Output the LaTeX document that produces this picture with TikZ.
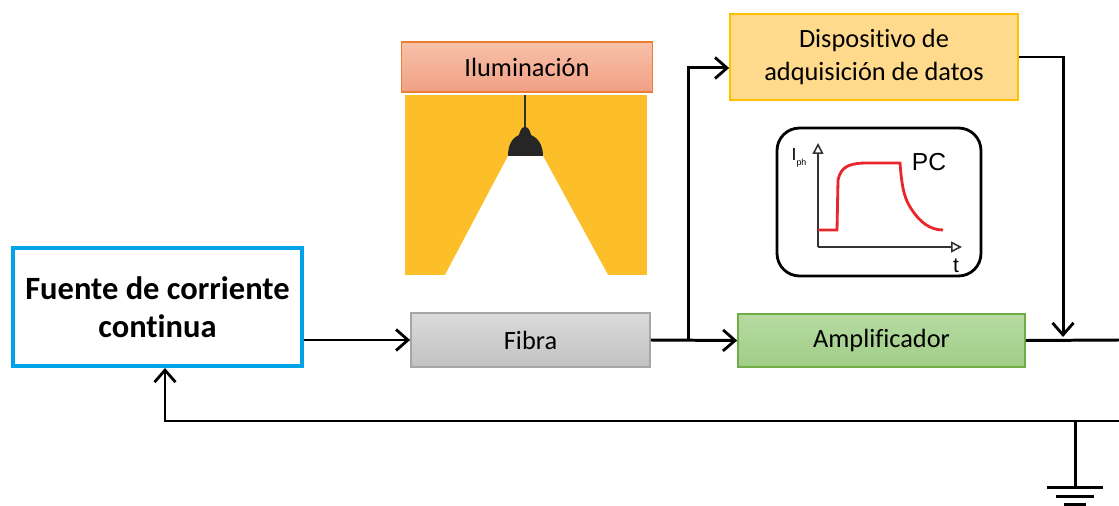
\documentclass[tikz,border=0pt]{standalone}
\usepackage{fontspec}
\setmainfont[Ligatures=NoCommon]{Carlito}
\newfontfamily\arialfont{Liberation Sans}
\usepackage{tikz}
\usetikzlibrary{positioning, arrows.meta, shapes}

\definecolor{fuenteblue}{HTML}{00A2E8}
\definecolor{ilumtop}{HTML}{F7C1AA}
\definecolor{ilumbot}{HTML}{F1A084}
\definecolor{ilumline}{HTML}{ED7D31}
\definecolor{lampyellow}{HTML}{FCBF2A}
\definecolor{dispfill}{HTML}{FFD98C}
\definecolor{displine}{HTML}{FFC000}
\definecolor{amptop}{HTML}{B7DBA3}
\definecolor{ampbot}{HTML}{A0CD86}
\definecolor{ampline}{HTML}{70AD47}
\definecolor{fibtop}{HTML}{DADADA}
\definecolor{fibbot}{HTML}{C2C2C2}
\definecolor{fibline}{HTML}{A6A6A6}
\definecolor{curvered}{HTML}{E8262C}

\tikzset{
    blk/.style={rectangle, line width=1pt, align=center, font=\fontsize{15}{19}\selectfont},
    arr/.style={line width=1.7pt, -{Straight Barb[length=2.4mm, width=4.2mm, line width=1.6pt]}},
    wire/.style={line width=1.7pt}
}

\begin{document}
\begin{tikzpicture}[x=0.02cm, y=-0.02cm]
    \useasboundingbox (0,0) rectangle (1119,506);

    % blocks
    \node[blk, draw=fuenteblue, line width=2.3pt, minimum width=5.78cm, minimum height=2.36cm,
          font=\fontsize{18.5}{21.5}\selectfont\bfseries] (fuente) at (157.5,307) {Fuente de corriente\\continua};
    \node[blk, draw=ilumline, top color=ilumtop, bottom color=ilumbot,
          minimum width=5.02cm, minimum height=1.0cm] (ilum) at (527,67) {Iluminación};
    \node[blk, draw=fibline, top color=fibtop, bottom color=fibbot,
          minimum width=4.78cm, minimum height=1.08cm] (fibra) at (530.5,340) {Fibra};
    \node[blk, draw=displine, fill=dispfill,
          minimum width=5.76cm, minimum height=1.72cm] (disp) at (874,57) {Dispositivo de\\adquisición de datos};
    \node[blk, draw=ampline, top color=amptop, bottom color=ampbot,
          minimum width=5.74cm, minimum height=1.06cm] (amp) at (881.5,340.5) {Amplificador};

    % lamp
    \fill[lampyellow] (405,95) rectangle (647,275);
    \fill[white] (508,156) -- (543,156) -- (608,275) -- (445,275) -- cycle;
    \draw[line width=1pt, black!80] (525,95) -- (525,130);
    \fill[black!85] (508,156) .. controls (508,145) and (512,138) .. (519,135)
        .. controls (520,130) and (522,127) .. (525,127)
        .. controls (528,127) and (530,130) .. (531,135)
        .. controls (538,138) and (543,145) .. (543,156) -- cycle;

    % photocurrent plot
    \node[draw, line width=1.6pt, rounded corners=0.45cm,
          minimum width=4.08cm, minimum height=2.96cm] (pc) at (879,202) {};
    \draw[line width=0.9pt, black!80, -{Triangle[open, length=2.2mm, width=2.2mm]}] (818,247) -- (818,143);
    \draw[line width=0.9pt, black!80, -{Triangle[open, length=2.2mm, width=2.2mm]}] (818,247) -- (962,247);
    \draw[line width=1.6pt, curvered] (818,230) -- (837,230) -- (838,180)
        .. controls (841,166) and (850,163) .. (868,163) -- (900,163)
        .. controls (902,190) and (905,200) .. (912,210)
        .. controls (920,222) and (930,230) .. (943,230);
    \node[font=\arialfont\fontsize{10}{10}\selectfont, inner sep=0pt] (iph) at (799,158) {I\raisebox{-0.5ex}{\fontsize{5}{5}\selectfont ph}};
    \node[font=\arialfont\fontsize{14}{14}\selectfont, inner sep=0pt] (pclbl) at (929,162) {PC};
    \node[font=\arialfont\fontsize{12}{12}\selectfont, inner sep=0pt] (tlbl) at (956,266) {t};

    % connections
    \coordinate (split) at (688,340);
    \coordinate (join) at (1063,337);
    \coordinate (right) at (1119,340);
    \coordinate (back) at (1119,421);
    \coordinate (ret) at (165,421);
    \coordinate (gnd) at (1075,421);

    \draw[arr] (fuente.east |- fibra.west) -- (fibra.west);
    \draw[arr] (fibra.east) -- (amp.west);
    \draw[arr] (split) |- ([yshift=-0.22cm]disp.west);
    \draw[arr] (disp.east) -| (join);
    \draw[wire] (amp.east) -- (right);
    \draw[arr] (back) -- (ret) -- (ret |- fuente.south);

    % ground
    \draw[wire] (gnd) -- ++(0,66);
    \draw[wire] ([xshift=-0.56cm, yshift=-1.34cm]gnd) -- ++(56,0);
    \draw[wire] ([xshift=-0.38cm, yshift=-1.52cm]gnd) -- ++(38,0);
    \draw[wire] ([xshift=-0.22cm, yshift=-1.68cm]gnd) -- ++(22,0);
\end{tikzpicture}
\end{document}
